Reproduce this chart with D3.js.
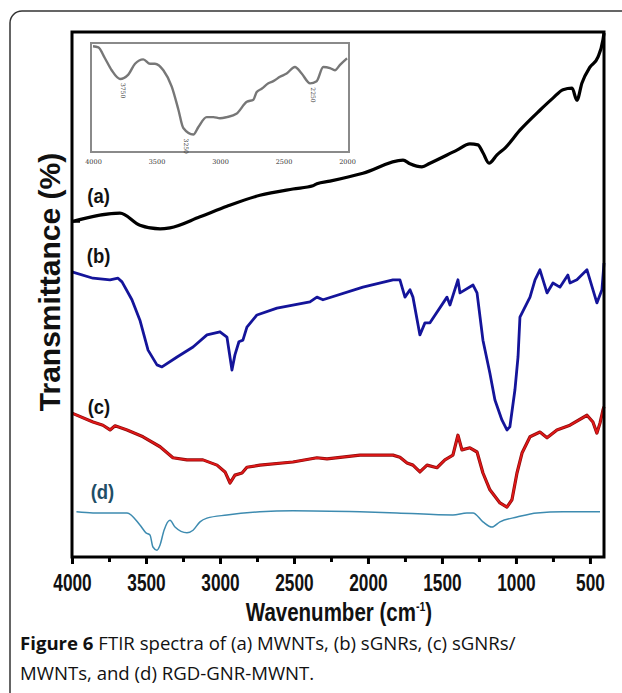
<!DOCTYPE html>
<html>
<head>
<meta charset="utf-8">
<script src="https://cdn.jsdelivr.net/npm/d3@7"></script>
<style>
  body { margin: 0; background: #fff; }
  svg { display: block; }
  .bold { font-family: "Liberation Sans", Arial, sans-serif; font-weight: bold; }
</style>
</head>
<body>
<div id="chart"></div>
<script>
// Spectra: [wavenumber (cm-1), transmittance (arbitrary, 0-100)]
const specA = [[4000,63.9],[3676,65.5],[3541,63.2],[3405,62.5],[3338,62.7],[3135,64.8],[2953,66.8],[2730,68.9],[2507,70.1],[2372,70.7],[2345,71.1],[2257,71.6],[2034,73.1],[1763,75.6],[1716,74.9],[1635,74.3],[1581,75.0],[1399,77.5],[1311,78.7],[1257,78.5],[1223,77.0],[1182,75.0],[1128,76.6],[1074,77.9],[973,81.3],[838,85.1],[750,87.4],[682,89.0],[621,89.3],[588,87.0],[554,90.3],[500,93.3],[446,95.2],[412,98.5],[405,99.8]];
const specB = [[4000,54.3],[3858,53.1],[3743,52.8],[3689,53.1],[3662,52.4],[3595,49.0],[3541,45.1],[3486,39.4],[3426,36.6],[3392,36.2],[3290,38.1],[3182,40.0],[3088,42.3],[3000,42.9],[2953,41.9],[2919,35.6],[2899,38.5],[2872,41.0],[2845,41.3],[2818,43.8],[2750,46.1],[2615,47.4],[2392,48.6],[2345,49.5],[2304,49.0],[2034,51.4],[1831,52.8],[1784,52.8],[1750,49.5],[1716,50.9],[1696,49.5],[1649,42.3],[1615,44.6],[1581,44.6],[1466,49.5],[1446,48.0],[1392,52.8],[1378,50.3],[1290,51.8],[1263,50.3],[1223,41.3],[1176,35.0],[1142,29.9],[1095,26.1],[1061,24.2],[1041,24.8],[1007,31.8],[986,38.1],[973,45.7],[905,49.5],[871,52.8],[838,54.7],[790,50.3],[750,52.2],[703,51.4],[649,53.7],[635,52.2],[588,52.8],[520,54.7],[453,48.4],[419,50.9],[405,56.0]];
const specC = [[4000,27.4],[3858,25.7],[3791,25.1],[3743,24.2],[3709,25.0],[3628,24.2],[3520,22.9],[3405,21.0],[3318,18.9],[3223,18.5],[3115,18.5],[3020,17.5],[2966,16.2],[2932,14.1],[2899,15.6],[2851,16.0],[2818,17.1],[2730,17.5],[2507,18.1],[2345,18.9],[2277,18.7],[2054,19.4],[1831,19.4],[1784,19.0],[1736,17.9],[1696,17.5],[1649,16.2],[1601,17.5],[1534,17.0],[1480,18.5],[1426,19.4],[1392,23.2],[1365,20.4],[1311,20.8],[1263,20.0],[1223,16.0],[1176,12.8],[1108,10.3],[1061,9.5],[1027,10.9],[993,16.0],[959,19.8],[905,22.9],[838,23.8],[790,22.7],[723,24.2],[635,25.1],[520,27.0],[480,25.7],[453,23.6],[432,25.5],[412,28.0],[405,28.6]];
const specD = [[3970,8.6],[3858,8.4],[3628,8.4],[3541,6.1],[3500,4.6],[3473,4.2],[3453,1.9],[3426,1.3],[3405,2.3],[3378,5.1],[3338,7.0],[3304,5.7],[3223,4.6],[3182,5.1],[3135,6.7],[3088,7.4],[2953,8.0],[2730,8.6],[2507,8.8],[2054,8.6],[1804,8.4],[1426,8.0],[1331,8.4],[1290,8.4],[1223,6.7],[1162,5.7],[1108,6.7],[993,7.6],[858,8.4],[682,8.6],[432,8.6]];

// Inset spectrum (4000-2000 cm-1)
const specInset = [[4000,97],[3958,96],[3906,86],[3853,75],[3787,67],[3722,71],[3669,81],[3604,85],[3551,81],[3512,81],[3446,75],[3380,60],[3328,39],[3289,22],[3210,16],[3170,23],[3105,32],[3052,32],[3000,31],[2947,32],[2871,35],[2789,46],[2737,48],[2711,55],[2672,58],[2619,63],[2580,65],[2528,69],[2475,72],[2410,78],[2357,72],[2291,63],[2239,65],[2187,78],[2134,77],[2095,75],[2055,80],[2000,86]];
const insetPeaks = [[3750,67],[3250,16],[2250,63]];

const xTicks = [4000, 3500, 3000, 2500, 2000, 1500, 1000, 500];
const xMinor = [3750, 3250, 2750, 2250, 1750, 1250, 750];
const insetTicks = [4000, 3500, 3000, 2500, 2000];

const seriesLabels = [
  { text: "(a)", wn: 3820, v: 67.5, color: "#111" },
  { text: "(b)", wn: 3820, v: 56.0, color: "#111" },
  { text: "(c)", wn: 3818, v: 27.2, color: "#111" },
  { text: "(d)", wn: 3794, v: 11.0, color: "#1f4e66" }
];

const W = 622, H = 693;
const svg = d3.select("#chart").append("svg")
  .attr("width", W).attr("height", H);

svg.append("rect").attr("width", W).attr("height", H).attr("fill", "#fff");

// Rounded panel border (runs off the right and bottom)
svg.append("rect")
  .attr("x", 10).attr("y", 11)
  .attr("width", 700).attr("height", 760)
  .attr("rx", 12)
  .attr("fill", "none")
  .attr("stroke", "#333")
  .attr("stroke-width", 1.5);

// Main plot area
const plot = { left: 72, right: 604, top: 32, bottom: 557 };

const x = d3.scaleLinear().domain([4000, 405]).range([plot.left, plot.right]);
const y = d3.scaleLinear().domain([0, 100]).range([plot.bottom, plot.top]);

const smooth = d3.line()
  .x(d => x(d[0]))
  .y(d => y(d[1]))
  .curve(d3.curveMonotoneX);

// noisy spectra keep their sharp corners
const jagged = d3.line()
  .x(d => x(d[0]))
  .y(d => y(d[1]));

// Spectra
svg.append("path").datum(specD)
  .attr("fill", "none").attr("stroke", "#3d8bb0").attr("stroke-width", 1.5)
  .attr("d", smooth);

svg.append("path").datum(specC)
  .attr("fill", "none").attr("stroke", "#8c0a0a").attr("stroke-width", 3.2)
  .attr("stroke-linejoin", "round")
  .attr("d", jagged);
svg.append("path").datum(specC)
  .attr("fill", "none").attr("stroke", "#e01818").attr("stroke-width", 1.8)
  .attr("stroke-linejoin", "round")
  .attr("d", jagged);

svg.append("path").datum(specB)
  .attr("fill", "none").attr("stroke", "#14149a").attr("stroke-width", 2.8)
  .attr("stroke-linejoin", "round")
  .attr("d", jagged);

svg.append("path").datum(specA)
  .attr("fill", "none").attr("stroke", "#000").attr("stroke-width", 3.2)
  .attr("d", smooth);

// Frame
svg.append("rect")
  .attr("x", plot.left).attr("y", plot.top)
  .attr("width", plot.right - plot.left).attr("height", plot.bottom - plot.top)
  .attr("fill", "none").attr("stroke", "#000").attr("stroke-width", 3);

// X axis
const xAxis = svg.append("g")
  .attr("transform", `translate(0,${plot.bottom})`)
  .call(d3.axisBottom(x).tickValues(xTicks).tickSize(7).tickPadding(10).tickFormat(d3.format("d")));
xAxis.select(".domain").remove();
xAxis.selectAll(".tick line").attr("stroke-width", 3);
xAxis.selectAll(".tick text")
  .attr("class", "bold")
  .attr("font-size", 24)
  .attr("fill", "#111")
  .attr("transform", "scale(0.72,1)");

const xMinorAxis = svg.append("g")
  .attr("transform", `translate(0,${plot.bottom})`)
  .call(d3.axisBottom(x).tickValues(xMinor).tickSize(5).tickFormat(""));
xMinorAxis.select(".domain").remove();
xMinorAxis.selectAll(".tick line").attr("stroke-width", 3);

// Y axis: a single inward tick, no labels
const yAxis = svg.append("g")
  .attr("transform", `translate(${plot.left},0)`)
  .call(d3.axisRight(y).tickValues([64]).tickSize(8).tickFormat(""));
yAxis.select(".domain").remove();
yAxis.selectAll(".tick line").attr("stroke-width", 2.5);

// Axis titles
const xTitle = svg.append("g")
  .attr("transform", "translate(339,621) scale(0.82,1)")
  .append("text")
  .attr("class", "bold")
  .attr("text-anchor", "middle")
  .attr("font-size", 25)
  .attr("fill", "#111");
xTitle.append("tspan").text("Wavenumber (cm");
xTitle.append("tspan").attr("font-size", 13).attr("dy", -10).text("-1");
xTitle.append("tspan").attr("dy", 10).text(")");

svg.append("text")
  .attr("class", "bold")
  .attr("transform", "translate(60,282) rotate(-90)")
  .attr("text-anchor", "middle")
  .attr("font-size", 30)
  .attr("fill", "#111")
  .text("Transmittance (%)");

// Series labels
svg.selectAll(".slabel")
  .data(seriesLabels)
  .enter().append("g")
  .attr("transform", d => `translate(${x(d.wn)},${y(d.v)}) scale(0.88,1)`)
  .append("text")
  .attr("class", "slabel bold")
  .attr("text-anchor", "middle")
  .attr("font-size", 21)
  .attr("fill", d => d.color)
  .text(d => d.text);

// Inset
const inset = { left: 93, right: 347, top: 43, bottom: 152 };
const ix = d3.scaleLinear().domain([4000, 2000]).range([inset.left, inset.right]);
const iy = d3.scaleLinear().domain([0, 100]).range([inset.bottom, inset.top]);

svg.append("rect")
  .attr("x", inset.left - 2).attr("y", inset.top)
  .attr("width", inset.right - inset.left + 4).attr("height", inset.bottom - inset.top)
  .attr("fill", "#fff").attr("stroke", "#8a8a8a").attr("stroke-width", 2);

const iAxis = svg.append("g")
  .attr("transform", `translate(0,${inset.bottom})`)
  .call(d3.axisBottom(ix).tickValues(insetTicks).tickSize(0).tickPadding(7).tickFormat(d3.format("d")));
iAxis.select(".domain").remove();
iAxis.selectAll(".tick text")
  .attr("font-family", "'DejaVu Serif', serif")
  .attr("font-size", 6.5)
  .attr("fill", "#333");

svg.append("path").datum(specInset)
  .attr("fill", "none").attr("stroke", "#777").attr("stroke-width", 2.4)
  .attr("d", d3.line().x(d => ix(d[0])).y(d => iy(d[1])).curve(d3.curveMonotoneX));

svg.selectAll(".ipeak")
  .data(insetPeaks)
  .enter().append("text")
  .attr("class", "ipeak")
  .attr("transform", d => `translate(${ix(d[0]) - 2},${iy(d[1]) + 4}) rotate(90)`)
  .attr("dy", "0.35em")
  .attr("font-family", "'DejaVu Serif', serif")
  .attr("font-size", 6)
  .attr("fill", "#333")
  .text(d => d[0]);

// Caption
const cap = svg.append("g")
  .attr("font-family", "'Open Sans', 'Noto Sans', sans-serif")
  .attr("font-size", 18.6)
  .attr("fill", "#111");
const line1 = cap.append("text").attr("x", 20).attr("y", 650);
line1.append("tspan").attr("font-weight", "bold").text("Figure 6");
line1.append("tspan").text(" FTIR spectra of (a) MWNTs, (b) sGNRs, (c) sGNRs/");
cap.append("text").attr("x", 20).attr("y", 680)
  .text("MWNTs, and (d) RGD-GNR-MWNT.");
</script>
</body>
</html>
